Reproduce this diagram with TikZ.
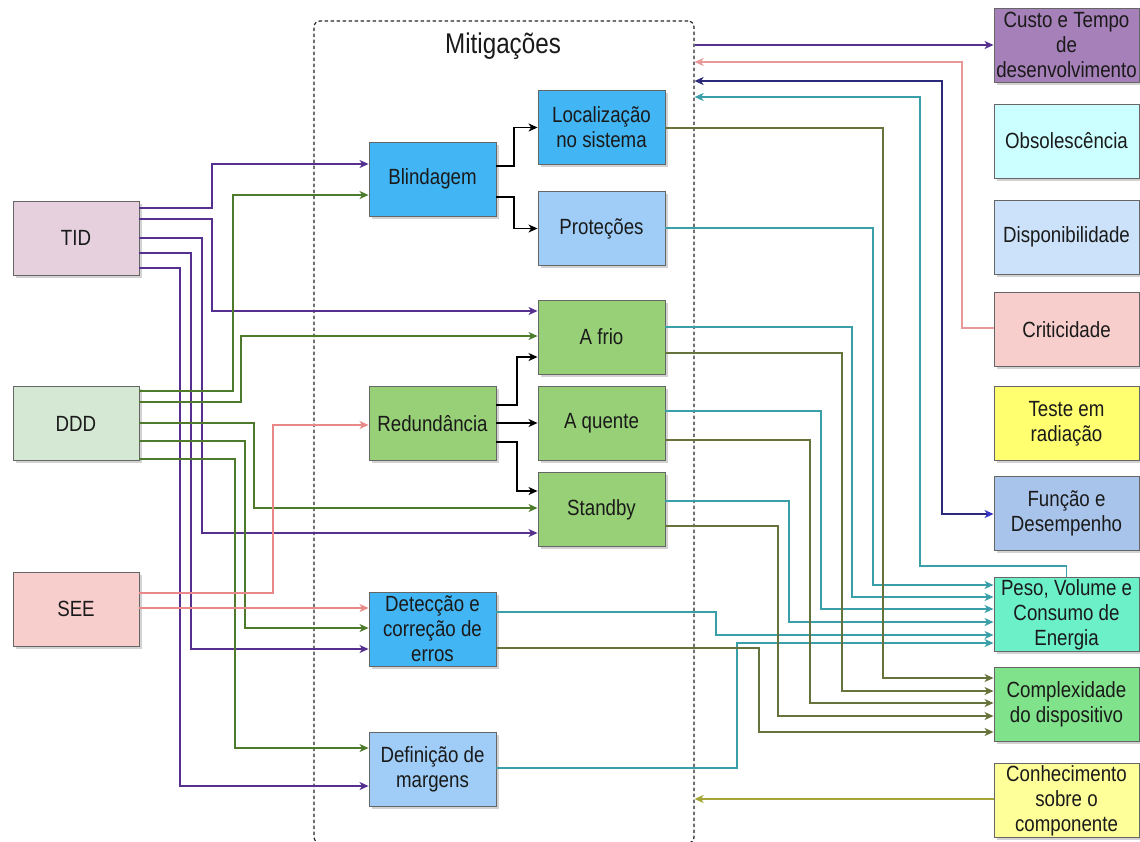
\documentclass[tikz,border=0pt]{standalone}
\usepackage{fontspec}
\setmainfont{Liberation Sans}[FakeStretch=0.85]
\usetikzlibrary{arrows.meta,shadows}

% fills
\definecolor{cTID}{HTML}{E6D0DE}
\definecolor{cDDD}{HTML}{D5E8D4}
\definecolor{cSEE}{HTML}{F8CECC}
\definecolor{cBlue}{HTML}{42B5F5}
\definecolor{cLBlue}{HTML}{9FCDF8}
\definecolor{cGreen}{HTML}{97D077}
\definecolor{cCusto}{HTML}{A680B8}
\definecolor{cObs}{HTML}{CCFFFF}
\definecolor{cDisp}{HTML}{CCE2FA}
\definecolor{cCrit}{HTML}{F8CECC}
\definecolor{cTeste}{HTML}{FFFF70}
\definecolor{cFunc}{HTML}{A9C4EB}
\definecolor{cPeso}{HTML}{6CF0C8}
\definecolor{cCompl}{HTML}{80E28A}
\definecolor{cConh}{HTML}{FFFF99}
% connector colours
\definecolor{lPurple}{HTML}{56308F}
\definecolor{lGreen}{HTML}{4E7A2C}
\definecolor{lPink}{HTML}{E88888}
\definecolor{lTeal}{HTML}{3A9FA8}
\definecolor{lOlive}{HTML}{66733A}
\definecolor{lRose}{HTML}{E89A9A}
\definecolor{lNavy}{HTML}{2A2A78}
\definecolor{lBlue}{HTML}{3535C8}
\definecolor{lYellow}{HTML}{A5A535}
\definecolor{txt}{HTML}{1A1A1A}

\tikzset{
  box/.style={draw=black!60, line width=0.9pt, inner sep=0pt, align=center,
    text=txt, font=\fontsize{22}{25}\selectfont,
    drop shadow={opacity=0.35, shadow xshift=2.5pt, shadow yshift=-2.5pt}},
  srcbox/.style={box, minimum width=126pt, minimum height=74pt},
  midbox/.style={box, minimum width=127pt, minimum height=74pt},
  rbox/.style={box, minimum width=145pt, minimum height=74pt},
  mitbox/.style={draw=black!85, line width=1.2pt, dash pattern=on 3.5pt off 2.5pt,
    rounded corners=6pt, minimum width=380pt, minimum height=822pt, inner sep=0pt},
  tip/.style={Stealth[length=9pt,width=8pt,inset=2.5pt]},
  conn/.style={line width=1.3pt, -{Stealth[length=9pt,width=8pt,inset=2.5pt]}},
  cpurple/.style={conn, draw=lPurple},
  cgreen/.style={conn, draw=lGreen},
  cpink/.style={conn, draw=lPink},
  cblack/.style={conn, draw=black},
  cteal/.style={conn, draw=lTeal},
  colive/.style={conn, draw=lOlive},
  crose/.style={conn, draw=lRose},
  cyellow/.style={conn, draw=lYellow},
}

\begin{document}
\begin{tikzpicture}[x=1pt, y=-1pt]
\clip (0,0) rectangle (1140,841);
\fill[white] (0,0) rectangle (1140,841);

% mitigation frame
\node[mitbox] (Mit) at (504,432) {};
\node[anchor=base, text=txt, font=\fontsize{28.5}{30}\selectfont] (MitT) at (503,53) {Mitigações};

% sources
\node[srcbox, fill=cTID] (TID) at (76,238) {TID};
\node[srcbox, fill=cDDD] (DDD) at (76,423.5) {DDD};
\node[srcbox, fill=cSEE] (SEE) at (76,609) {SEE};

% mitigations
\node[midbox, fill=cBlue] (Blind) at (432.5,179) {Blindagem};
\node[midbox, fill=cBlue] (Local) at (601.5,127.5) {Localização\\no sistema};
\node[midbox, fill=cLBlue] (Prot) at (601.5,228.5) {Proteções};
\node[midbox, fill=cGreen] (Afrio) at (601.5,337) {A frio};
\node[midbox, fill=cGreen] (Redund) at (432.5,423.5) {Redundância};
\node[midbox, fill=cGreen] (Aquente) at (601.5,423.5) {A quente};
\node[midbox, fill=cGreen] (Standby) at (601.5,509.5) {Standby};
\node[midbox, fill=cBlue] (Detec) at (432.5,629) {Detecção e\\correção de\\erros};
\node[midbox, fill=cLBlue] (Defin) at (432.5,769) {Definição de\\margens};

% impacts
\node[rbox, fill=cCusto] (Custo) at (1066.5,45) {Custo e Tempo\\de\\desenvolvimento};
\node[rbox, fill=cObs] (Obs) at (1066.5,141) {Obsolescência};
\node[rbox, fill=cDisp] (Disp) at (1066.5,237) {Disponibilidade};
\node[rbox, fill=cCrit] (Crit) at (1066.5,329.5) {Criticidade};
\node[rbox, fill=cTeste] (Teste) at (1066.5,423.5) {Teste em\\radiação};
\node[rbox, fill=cFunc] (Func) at (1066.5,513.5) {Função e\\Desempenho};
\node[rbox, fill=cPeso] (Peso) at (1066.5,614.5) {Peso, Volume e\\Consumo de\\Energia};
\node[rbox, fill=cCompl] (Compl) at (1066.5,704.5) {Complexidade\\do dispositivo};
\node[rbox, fill=cConh] (Conh) at (1066.5,800.5) {Conhecimento\\sobre o\\componente};

% TID
\draw[cpurple] (TID.east|-0,208) -| (212,164) -- (Blind.west|-0,164);
\draw[cpurple] (TID.east|-0,219) -| (212,311) -- (Afrio.west|-0,311);
\draw[cpurple] (TID.east|-0,238) -| (202,533) -- (Standby.west|-0,533);
\draw[cpurple] (TID.east|-0,253) -| (191,649) -- (Detec.west|-0,649);
\draw[cpurple] (TID.east|-0,268) -| (180,786) -- (Defin.west|-0,786);

% DDD
\draw[cgreen] (DDD.east|-0,391) -| (233,195) -- (Blind.west|-0,195);
\draw[cgreen] (DDD.east|-0,402) -| (241,336) -- (Afrio.west|-0,336);
\draw[cgreen] (DDD.east|-0,423) -| (254,508) -- (Standby.west|-0,508);
\draw[cgreen] (DDD.east|-0,441) -| (245,628) -- (Detec.west|-0,628);
\draw[cgreen] (DDD.east|-0,459) -| (235,748) -- (Defin.west|-0,748);

% SEE
\draw[cpink] (SEE.east|-0,593) -| (273,425) -- (Redund.west|-0,425);
\draw[cpink] (SEE.east|-0,608) -- (Detec.west|-0,608);

% mitigation breakdown
\draw[cblack] (Blind.east|-0,166) -| (514,127.5) -- (Local.west);
\draw[cblack] (Blind.east|-0,197) -| (514,228.5) -- (Prot.west);
\draw[cblack] (Redund.east|-0,405) -| (517,357) -- (Afrio.west|-0,357);
\draw[cblack] (Redund.east|-0,423) -- (Aquente.west|-0,423);
\draw[cblack] (Redund.east|-0,442) -| (517,491) -- (Standby.west|-0,491);

% towards weight, volume and energy
\draw[cteal] (Prot.east|-0,228) -| (873,585) -- (Peso.west|-0,585);
\draw[cteal] (Afrio.east|-0,327) -| (852,597) -- (Peso.west|-0,597);
\draw[cteal] (Aquente.east|-0,411) -| (821,609) -- (Peso.west|-0,609);
\draw[cteal] (Standby.east|-0,501) -| (789,622) -- (Peso.west|-0,622);
\draw[cteal] (Detec.east|-0,612) -| (716,635) -- (Peso.west|-0,635);
\draw[cteal] (Defin.east|-0,768) -| (737,643) -- (Peso.west|-0,643);

% towards device complexity
\draw[colive] (Local.east|-0,128) -| (883,678) -- (Compl.west|-0,678);
\draw[colive] (Afrio.east|-0,353) -| (842,691) -- (Compl.west|-0,691);
\draw[colive] (Aquente.east|-0,440) -| (810,703) -- (Compl.west|-0,703);
\draw[colive] (Standby.east|-0,526) -| (778,716) -- (Compl.west|-0,716);
\draw[colive] (Detec.east|-0,648) -| (759,732) -- (Compl.west|-0,732);

% frame to / from impacts
\draw[cpurple] (Mit.east|-0,45) -- (Custo.west|-0,45);
\draw[crose] (Crit.west|-0,328) -| (962,62) -- (Mit.east|-0,62);
\draw[line width=1.3pt, draw=lNavy,
  {Stealth[length=9pt,width=8pt,inset=2.5pt,color=lNavy]}-{Stealth[length=9pt,width=8pt,inset=2.5pt,color=lBlue]}]
  (Mit.east|-0,81) -| (942,514) -- (Func.west|-0,514);
\draw[cteal] (Peso.north) -- (1066.5,566) -| (920,97) -- (Mit.east|-0,97);
\draw[cyellow] (Conh.west|-0,799) -- (Mit.east|-0,799);
\end{tikzpicture}
\end{document}
